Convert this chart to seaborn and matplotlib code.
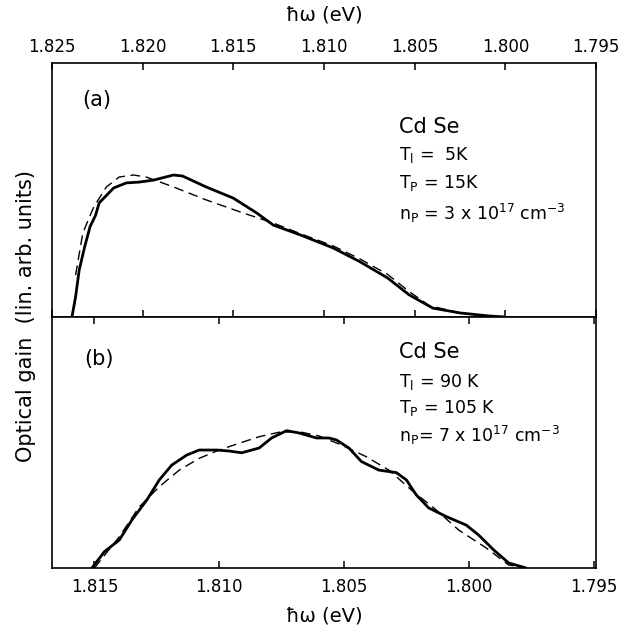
import matplotlib
matplotlib.use('Agg')
import matplotlib.pyplot as plt
import seaborn as sns

sns.set_style('ticks', {'axes.edgecolor': 'black', 'xtick.color': 'black',
                        'ytick.color': 'black', 'text.color': 'black',
                        'axes.labelcolor': 'black'})
plt.rcParams['font.family'] = ['DejaVu Sans']
plt.rcParams['mathtext.fontset'] = 'dejavusans'

# panel (a): T_l = 5 K, photon energy in eV
top_solid_ev = [1.8239, 1.8237, 1.8235, 1.8232, 1.8229, 1.8226, 1.8224, 1.8216, 1.8209,
                1.8202, 1.8194, 1.8183, 1.8178, 1.8165, 1.8150, 1.8137, 1.8128, 1.8113,
                1.8095, 1.8080, 1.8065, 1.8053, 1.8040, 1.8025, 1.8009, 1.8000]
top_solid_gain = [0.0, 0.079, 0.185, 0.276, 0.356, 0.400, 0.449, 0.508, 0.528,
                  0.531, 0.539, 0.559, 0.555, 0.512, 0.468, 0.409, 0.362, 0.323,
                  0.272, 0.217, 0.154, 0.087, 0.035, 0.016, 0.004, 0.0]

top_dash_ev = [1.8237, 1.8233, 1.8227, 1.8220, 1.8213, 1.8205, 1.8198, 1.8183, 1.8165,
               1.8146, 1.8128, 1.8113, 1.8095, 1.8080, 1.8065, 1.8053, 1.8042, 1.8025, 1.8009]
top_dash_gain = [0.165, 0.331, 0.433, 0.512, 0.551, 0.559, 0.551, 0.512, 0.461,
                 0.413, 0.370, 0.328, 0.280, 0.228, 0.168, 0.100, 0.045, 0.016, 0.003]

# panel (b): T_l = 90 K
bot_solid_ev = [1.8151, 1.8146, 1.8140, 1.8135, 1.8129, 1.8124, 1.8119, 1.8113, 1.8108,
                1.8101, 1.8096, 1.8091, 1.8084, 1.8079, 1.8073, 1.8068, 1.8061, 1.8056,
                1.8053, 1.8048, 1.8043, 1.8036, 1.8029, 1.8025, 1.8021, 1.8016, 1.8009,
                1.8001, 1.7996, 1.7990, 1.7984, 1.7977]
bot_solid_gain = [0.0, 0.065, 0.112, 0.191, 0.271, 0.351, 0.410, 0.450, 0.470,
                  0.470, 0.466, 0.459, 0.478, 0.518, 0.547, 0.538, 0.518, 0.518,
                  0.510, 0.478, 0.424, 0.390, 0.380, 0.351, 0.291, 0.239, 0.205,
                  0.171, 0.131, 0.072, 0.020, 0.0]

bot_dash_ev = [1.8150, 1.8140, 1.8132, 1.8124, 1.8116, 1.8108, 1.8100, 1.8092, 1.8084,
               1.8076, 1.8068, 1.8060, 1.8051, 1.8041, 1.8032, 1.8023, 1.8013, 1.8004,
               1.7993, 1.7984, 1.7977]
bot_dash_gain = [0.0, 0.125, 0.244, 0.324, 0.390, 0.437, 0.470, 0.497, 0.523,
                 0.541, 0.543, 0.526, 0.490, 0.443, 0.390, 0.311, 0.231, 0.151,
                 0.080, 0.012, 0.0]

top_ticks = [1.825, 1.820, 1.815, 1.810, 1.805, 1.800, 1.795]
bot_ticks = [1.815, 1.810, 1.805, 1.800, 1.795]

top_text = ['Cd Se', r'T$_\mathrm{l}$ =  5K', r'T$_\mathrm{P}$ = 15K',
            r'n$_\mathrm{P}$ = 3 x 10$^{17}$ cm$^{-3}$']
bot_text = ['Cd Se', r'T$_\mathrm{l}$ = 90 K', r'T$_\mathrm{P}$ = 105 K',
            r'n$_\mathrm{P}$= 7 x 10$^{17}$ cm$^{-3}$']


def draw_panel(ax, solid_x, solid_y, dash_x, dash_y):
    sns.lineplot(x=solid_x, y=solid_y, ax=ax, color='black', linewidth=2.0,
                 estimator=None, sort=False)
    sns.lineplot(x=dash_x, y=dash_y, ax=ax, color='black', linewidth=1.0,
                 linestyle=(0, (7, 4)), estimator=None, sort=False)
    ax.set_ylim(0, 1)
    ax.set_yticks([])
    ax.set_xlabel('')
    ax.set_ylabel('')
    for s in ax.spines.values():
        s.set_visible(True)
        s.set_linewidth(1.2)
        s.set_color('black')
    ax.tick_params(axis='x', direction='in', length=5, width=1.1, color='black',
                   labelcolor='black', top=True, bottom=True, labelsize=12)


fig = plt.figure(figsize=(6.24, 6.30), dpi=100)
ax_a = fig.add_axes([52 / 624, 1 - 317 / 630, 544 / 624, 254 / 630])
ax_b = fig.add_axes([52 / 624, 1 - 568 / 630, 544 / 624, 251 / 630])

draw_panel(ax_a, top_solid_ev, top_solid_gain, top_dash_ev, top_dash_gain)
ax_a.set_xlim(1.825, 1.795)
ax_a.set_xticks(top_ticks)
ax_a.set_xticklabels([f'{t:.3f}' for t in top_ticks])
ax_a.tick_params(axis='x', labeltop=True, labelbottom=False, pad=5)

draw_panel(ax_b, bot_solid_ev, bot_solid_gain, bot_dash_ev, bot_dash_gain)
ax_b.set_xlim(1.8167, 1.7949)
ax_b.set_xticks(bot_ticks)
ax_b.set_xticklabels([f'{t:.3f}' for t in bot_ticks])
ax_b.tick_params(axis='x', labeltop=False, labelbottom=True, pad=7)

# panel labels and sample parameters
ax_a.text(0.083, 0.854, '(a)', transform=ax_a.transAxes, fontsize=15,
          ha='center', va='center', color='black')
ax_b.text(0.086, 0.833, '(b)', transform=ax_b.transAxes, fontsize=15,
          ha='center', va='center', color='black')

for ax, lines, ys in [(ax_a, top_text, [0.748, 0.638, 0.528, 0.409]),
                      (ax_b, bot_text, [0.861, 0.741, 0.637, 0.530])]:
    for i, (s, y) in enumerate(zip(lines, ys)):
        ax.text(0.638, y, s, transform=ax.transAxes, ha='left', va='center',
                fontsize=15 if i == 0 else 12.5, color='black')

fig.text(324 / 624, 1 - 15 / 630, 'ħω (eV)', ha='center', va='center',
         fontsize=14, color='black')
fig.text(324 / 624, 1 - 616 / 630, 'ħω (eV)', ha='center', va='center',
         fontsize=14, color='black')
fig.text(26 / 624, 1 - 316 / 630, 'Optical gain  (lin. arb. units)', rotation=90,
         ha='center', va='center', fontsize=15, color='black')

fig.savefig('out.png', dpi=100)
